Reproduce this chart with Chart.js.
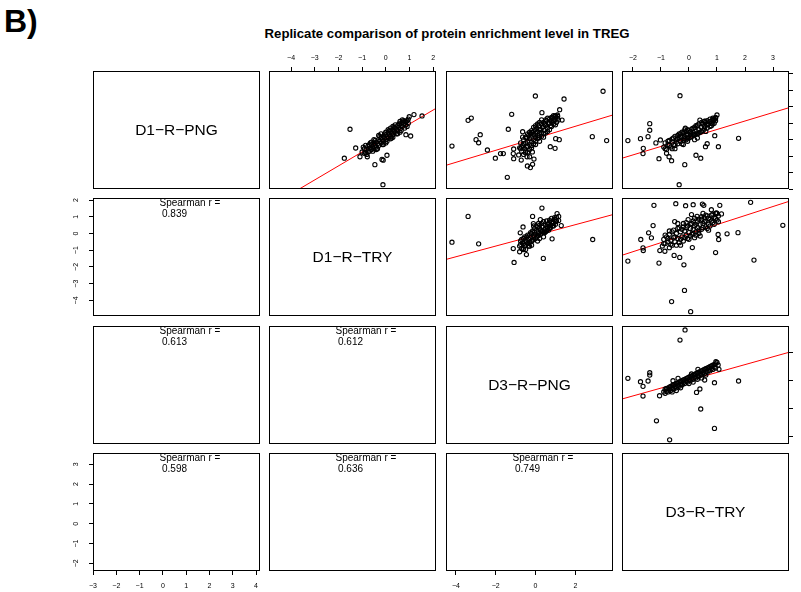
<!DOCTYPE html>
<html>
<head>
<meta charset="utf-8">
<script src="https://cdn.jsdelivr.net/npm/chart.js@4.4.1/dist/chart.umd.min.js"></script>
<style>
  html, body { margin: 0; padding: 0; background: #fff; overflow: hidden; width: 801px; height: 592px; }
  #stage { position: relative; width: 801px; height: 592px; }
  #stage canvas { position: absolute; left: 0; top: 0; }
  .tag { position: absolute; left: 4px; top: 5px; font: bold 32px/32px "Liberation Sans", Arial, sans-serif; color: #000; }
  .title { position: absolute; left: 0; top: 27px; width: 894px; text-align: center; white-space: nowrap;
           font: bold 13.2px/13px "Liberation Sans", Arial, sans-serif; color: #000; }
</style>
</head>
<body>
<div id="stage">
  <div class="tag">B)</div>
  <div class="title">Replicate comparison of protein enrichment level in TREG</div>
</div>
<script>
// ---- data ----
const varNames = ['D1\u2212R\u2212PNG', 'D1\u2212R\u2212TRY', 'D3\u2212R\u2212PNG', 'D3\u2212R\u2212TRY'];
const axisMin = [-3.0, -4.93, -4.5, -2.39];
const axisMax = [4.17, 2.12, 3.89, 3.57];
const axisTicks = [
  [-3, -2, -1, 0, 1, 2, 3, 4],
  [-4, -3, -2, -1, 0, 1, 2],
  [-4, -2, 0, 2],
  [-2, -1, 0, 1, 2, 3]
];

// spearman r for the lower panels, [row, col] (1-based)
const spearmanCells = [[2, 1], [3, 1], [3, 2], [4, 1], [4, 2], [4, 3]];
const spearmanR = [0.839, 0.613, 0.612, 0.598, 0.636, 0.749];

// upper panels: x = column variable, y = row variable
// row 1, col 2: x D1-R-TRY, y D1-R-PNG
const scatter12 = [
  [-1.0,-0.75],[-0.9,-0.55],[-0.85,-0.8],[-0.8,-0.6],[-0.75,-0.4],[-0.7,-0.7],[-0.65,-0.5],[-0.6,-0.3],
  [-0.6,-0.6],[-0.55,-0.45],[-0.5,-0.2],[-0.5,-0.55],[-0.45,-0.35],[-0.4,-0.15],[-0.4,-0.45],[-0.35,-0.25],
  [-0.3,0.0],[-0.3,-0.35],[-0.25,-0.1],[-0.2,0.1],[-0.2,-0.2],[-0.15,0.0],[-0.1,0.2],[-0.1,-0.1],
  [-0.05,0.1],[0.0,0.3],[0.0,0.0],[0.05,0.2],[0.1,0.4],[0.1,0.1],[0.15,0.3],[0.2,0.5],[0.2,0.2],
  [0.25,0.4],[0.3,0.6],[0.3,0.3],[0.35,0.5],[0.4,0.7],[0.4,0.45],[0.45,0.6],[0.5,0.85],[0.5,0.55],
  [0.55,0.75],[0.6,0.95],[0.6,0.65],[0.65,0.85],[0.7,1.05],[0.7,0.8],[0.75,0.95],[0.8,1.1],[0.85,0.9],
  [0.9,1.15],[0.95,1.0],[-0.7,-0.3],[0.2,0.7],
  [-0.95,-0.45],[-0.85,-0.35],[-0.75,-0.75],[-0.65,-0.2],[-0.55,-0.7],[-0.45,-0.05],[-0.35,-0.55],
  [-0.25,0.2],[-0.15,-0.3],[-0.05,0.35],[0.05,-0.1],[0.15,0.55],[0.25,0.1],[0.35,0.75],[0.45,0.35],
  [0.55,0.95],[0.65,0.55],[0.75,1.15],[0.85,1.1],[0.9,0.8],[-0.3,0.25],[0.0,0.45],[0.3,0.8],[0.6,1.1],
  [-0.6,-0.15],[-0.4,-0.6],[-0.1,-0.3],[0.2,0.05],[0.5,0.35],[0.8,0.7],[-0.2,0.35],[0.1,0.6],[0.4,0.9],
  [0.7,1.2],[-0.8,-0.9],[-0.5,0.0],[0.0,-0.2],[0.3,0.15],[0.6,0.45],[0.95,1.25],
  [-1.51,0.63],[-1.75,-1.13],[-0.12,-2.74],[-0.46,-1.52],[-0.16,-1.2],[-0.11,-1.25],[0.05,-0.95],
  [1.53,1.44],[1.19,1.52],[0.99,1.39],[1.05,0.22],[0.85,0.30],[-1.27,-0.51],[-1.09,-1.04],
  [-0.78,-1.04],[-0.91,-0.83]
];
// row 1, col 3: x D3-R-PNG, y D1-R-PNG
const scatter13 = [
  [-0.8,-0.5],[-0.75,-0.2],[-0.7,-0.7],[-0.65,-0.35],[-0.6,0.0],[-0.55,-0.55],[-0.5,-0.2],[-0.45,0.1],
  [-0.45,-0.45],[-0.4,-0.1],[-0.35,0.25],[-0.3,-0.3],[-0.3,0.05],[-0.25,0.35],[-0.2,-0.15],[-0.2,0.15],
  [-0.15,0.45],[-0.1,0.0],[-0.1,0.3],[-0.05,0.6],[0.0,0.15],[0.0,0.4],[0.05,0.7],[0.1,0.25],[0.1,0.5],
  [0.15,0.85],[0.2,0.35],[0.25,0.6],[0.3,0.95],[0.3,0.45],[0.35,0.75],[0.4,1.05],[0.45,0.55],[0.5,0.85],
  [0.55,1.15],[0.6,0.7],[0.65,1.0],[0.7,1.25],[0.75,0.85],[0.8,1.1],[0.85,1.35],[0.9,0.95],[0.95,1.2],
  [1.0,1.45],[1.05,1.05],[1.1,1.3],[-0.6,-0.9],[-0.4,-0.75],[-0.2,-0.5],[0.0,-0.3],[0.2,-0.1],[0.4,0.15],
  [-0.7,-0.45],[-0.6,-0.25],[-0.5,-0.7],[-0.5,0.15],[-0.4,-0.4],[-0.4,0.35],[-0.3,-0.6],[-0.3,0.45],
  [-0.2,0.55],[-0.2,-0.35],[-0.1,0.75],[-0.1,-0.25],[0.0,0.85],[0.0,-0.1],[0.1,0.95],[0.1,0.05],
  [0.2,1.05],[0.2,0.6],[0.3,1.2],[0.3,0.2],[0.4,0.8],[0.4,0.35],[0.5,1.2],[0.5,0.4],[0.6,1.3],[0.6,0.5],
  [0.7,1.0],[0.7,0.6],[0.8,1.35],[0.8,0.8],[0.9,1.45],[0.9,1.15],[1.0,1.3],[1.0,0.9],[1.1,1.5],[1.15,1.2],
  [-0.65,0.15],[-0.75,-0.55],[0.15,0.15],[0.45,0.95],
  [-4.2,-0.39],[-3.39,1.17],[-3.23,1.31],[-2.99,0.0],[-2.86,-0.19],[-2.78,0.30],[-2.42,-0.63],
  [-2.02,-1.13],[-1.76,-0.85],[-1.62,-0.85],[-1.37,0.63],[-1.2,1.54],[-1.42,-2.29],[-1.12,-0.85],
  [-1.1,-1.16],[-1.1,-0.57],[-0.01,2.65],[1.43,2.47],[1.21,1.82],[3.39,2.94],[2.85,0.18],[3.57,-0.06],
  [0.32,1.64],[-0.41,-1.6],[-0.26,-1.7],[-0.15,-1.5],[-0.43,-1.04],[-0.3,-1.04],[-0.08,-1.18],
  [-0.16,-0.75],[-0.51,-0.79],[-0.65,0.48],[0.98,-0.53],[0.74,-0.43],[1.01,0.06],[1.19,0.0],
  [1.33,1.19],[1.11,1.42],[0.96,1.39],[-0.72,-1.24],[-0.85,-0.93]
];
// row 1, col 4: x D3-R-TRY, y D1-R-PNG
const scatter14 = [
  [-0.9,-0.45],[-0.85,-0.2],[-0.8,-0.6],[-0.75,-0.3],[-0.7,-0.05],[-0.65,-0.45],[-0.6,-0.15],[-0.55,0.1],
  [-0.5,-0.35],[-0.45,0.0],[-0.4,0.25],[-0.4,-0.25],[-0.35,0.1],[-0.3,-0.1],[-0.3,0.35],[-0.25,0.15],
  [-0.2,-0.05],[-0.2,0.4],[-0.15,0.2],[-0.1,0.0],[-0.1,0.5],[-0.05,0.3],[0.0,0.1],[0.0,0.55],[0.05,0.35],
  [0.1,0.2],[0.1,0.65],[0.15,0.45],[0.2,0.3],[0.2,0.75],[0.25,0.5],[0.3,0.35],[0.3,0.85],[0.35,0.6],
  [0.4,0.45],[0.45,0.75],[0.5,0.95],[0.5,0.55],[0.55,0.8],[0.6,1.05],[0.65,0.7],[0.7,0.95],[0.75,1.1],
  [0.8,0.85],[0.85,1.2],[0.9,1.0],[0.95,1.3],[0.95,1.15],[-0.6,-0.55],[-0.2,-0.3],[0.2,0.0],
  [-0.85,-0.55],[-0.75,-0.1],[-0.7,-0.35],[-0.6,0.05],[-0.55,-0.3],[-0.5,0.2],[-0.45,-0.15],[-0.4,0.05],
  [-0.35,0.35],[-0.3,0.2],[-0.25,-0.25],[-0.25,0.45],[-0.15,0.05],[-0.1,0.3],[-0.05,0.6],[-0.05,0.1],
  [0.05,0.5],[0.05,0.15],[0.15,0.7],[0.15,0.3],[0.25,0.85],[0.25,0.35],[0.35,0.4],[0.35,0.95],[0.45,0.5],
  [0.45,1.05],[0.55,0.65],[0.55,1.1],[0.65,0.9],[0.65,1.15],[0.75,0.8],[0.75,1.25],[0.85,0.95],[0.85,1.3],
  [0.9,1.25],[0.95,1.35],[-0.05,-0.1],[0.3,0.1],[0.6,0.5],[-0.5,-0.55],
  [-2.18,-0.06],[-1.73,0.06],[-1.63,-0.53],[-1.64,-0.85],[-1.46,0.18],[-1.40,0.97],[-1.40,0.57],
  [-1.18,-0.2],[-1.02,-0.02],[-1.07,-1.16],[-0.62,-1.28],[-0.71,-1.04],[-0.80,-0.83],[-0.32,2.67],
  [-0.35,-2.74],[-0.15,-1.52],[0.25,-0.95],[0.42,-1.13],[0.59,-0.43],[0.65,-0.25],[1.05,-0.43],
  [1.77,0.08],[0.92,0.24],[1.0,1.5],[0.39,1.19],[0.56,1.13],[0.89,1.19],[0.8,0.99],[-0.13,0.69],[-0.15,0.59]
];
// row 2, col 3: x D3-R-PNG, y D1-R-TRY
const scatter23 = [
  [-0.8,-0.75],[-0.75,-0.45],[-0.7,-0.9],[-0.65,-0.55],[-0.6,-0.3],[-0.55,-0.7],[-0.5,-0.45],[-0.45,-0.2],
  [-0.4,-0.6],[-0.35,-0.35],[-0.3,-0.1],[-0.3,-0.5],[-0.25,-0.25],[-0.2,0.0],[-0.15,-0.4],[-0.1,-0.15],
  [-0.05,0.1],[0.0,-0.3],[0.0,-0.05],[0.05,0.2],[0.1,-0.15],[0.15,0.05],[0.2,0.3],[0.25,-0.05],[0.3,0.15],
  [0.35,0.4],[0.4,0.05],[0.45,0.25],[0.5,0.5],[0.55,0.15],[0.6,0.35],[0.65,0.6],[0.7,0.3],[0.75,0.5],
  [0.8,0.7],[0.85,0.45],[0.9,0.65],[0.95,0.85],[1.0,0.55],[1.05,0.75],[-0.5,-0.95],[-0.2,-0.7],
  [0.1,-0.45],[0.4,-0.2],
  [-0.75,-0.65],[-0.7,-0.35],[-0.6,-0.6],[-0.55,-0.2],[-0.45,-0.5],[-0.4,-0.1],[-0.35,-0.75],[-0.25,0.05],
  [-0.2,-0.45],[-0.15,0.15],[-0.1,-0.35],[-0.05,0.3],[0.05,-0.2],[0.1,0.4],[0.15,-0.1],[0.2,0.5],
  [0.25,0.2],[0.3,0.6],[0.35,0.1],[0.4,0.7],[0.45,0.05],[0.5,0.3],[0.55,0.75],[0.6,0.55],[0.65,0.2],
  [0.7,0.8],[0.75,0.35],[0.8,0.9],[0.85,0.6],[0.9,0.45],[0.95,0.95],[1.0,0.7],[1.05,0.95],[-0.6,-0.9],
  [-0.1,0.45],[0.2,-0.3],[0.5,0.1],[0.15,0.6],
  [-4.2,-0.52],[-3.39,1.02],[-2.86,-0.62],[-1.12,-0.90],[-1.08,-1.73],[-0.46,-1.26],[-0.80,-1.09],
  [-0.63,-0.96],[0.32,1.52],[-0.15,1.02],[-0.11,0.59],[0.24,0.83],[0.39,-1.49],[1.08,1.19],[1.16,1.02],
  [1.16,0.77],[1.29,0.47],[0.83,-0.32],[2.87,-0.36],[-0.77,0.04],[-0.63,0.39],[-0.38,-0.56],[-0.3,-0.76]
];
// row 2, col 4: x D3-R-TRY, y D1-R-TRY
const scatter24 = [
  [-0.95,-0.75],[-0.9,-0.35],[-0.85,-0.6],[-0.8,-0.2],[-0.75,-0.5],[-0.7,-0.05],[-0.65,-0.4],[-0.6,-0.7],
  [-0.6,0.1],[-0.55,-0.25],[-0.5,-0.5],[-0.45,0.0],[-0.4,-0.3],[-0.4,0.3],[-0.35,-0.55],[-0.3,0.1],
  [-0.25,-0.2],[-0.2,0.4],[-0.2,-0.45],[-0.15,0.15],[-0.1,-0.1],[-0.05,0.45],[0.0,0.05],[0.0,-0.35],
  [0.05,0.3],[0.1,-0.05],[0.1,0.6],[0.15,0.25],[0.2,-0.25],[0.2,0.45],[0.25,0.1],[0.3,0.7],[0.3,0.35],
  [0.35,0.0],[0.4,0.55],[0.45,0.85],[0.45,0.25],[0.5,0.6],[0.55,0.95],[0.6,0.4],[0.6,0.75],[0.65,1.05],
  [0.7,0.55],[0.75,0.85],[0.8,1.1],[0.85,0.65],[0.9,0.95],[0.95,1.2],[1.0,0.8],[1.05,1.05],
  [-0.7,-0.85],[-0.3,-0.7],[0.4,-0.15],[0.7,0.2],
  [-0.9,-0.6],[-0.85,-0.1],[-0.75,-0.3],[-0.7,0.15],[-0.65,-0.65],[-0.55,0.2],[-0.5,-0.2],[-0.45,-0.7],
  [-0.35,0.35],[-0.3,-0.35],[-0.25,0.25],[-0.2,0.6],[-0.15,-0.25],[-0.1,0.35],[-0.05,-0.3],[0.05,0.55],
  [0.05,-0.15],[0.15,0.75],[0.15,0.0],[0.25,0.55],[0.25,-0.1],[0.35,0.85],[0.35,0.2],[0.45,1.0],[0.5,0.35],
  [0.55,0.7],[0.6,1.1],[0.65,0.3],[0.7,0.9],[0.75,0.45],[0.8,0.75],[0.85,1.15],[0.9,0.55],[0.95,0.9],
  [1.0,1.2],[1.05,0.7],[-0.1,0.65],[0.2,0.9],[0.5,1.2],[-0.4,0.6],
  [-2.18,-1.65],[-1.25,1.68],[-0.47,1.78],[-0.12,1.66],[0.15,1.72],[0.48,1.76],[0.53,1.68],[1.1,1.68],
  [2.2,1.86],[3.35,0.49],[-1.72,-0.36],[-1.64,-0.86],[-1.63,-1.02],[-1.28,0.47],[-1.44,0.04],
  [-1.34,-0.26],[-1.07,-1.77],[-0.62,-4.07],[-0.16,-3.40],[0.06,-4.67],[-0.18,-1.87],[-0.53,-1.31],
  [-0.33,-1.43],[0.12,-0.84],[0.95,-1.14],[1.06,-0.36],[1.04,-0.06],[1.36,-0.02],[1.75,0.05],
  [2.32,-1.59],[-1.04,-1.02],[-0.86,-1.06],[-0.51,0.71],[-0.03,0.83],[0.09,1.13],[0.29,1.02],
  [0.80,1.42],[0.98,1.23],[1.16,1.17]
];
// row 3, col 4: x D3-R-TRY, y D3-R-PNG
const scatter34 = [
  [-0.9,-0.8],[-0.85,-0.6],[-0.8,-0.75],[-0.75,-0.55],[-0.7,-0.65],[-0.65,-0.4],[-0.6,-0.55],[-0.55,-0.3],
  [-0.5,-0.45],[-0.45,-0.2],[-0.4,-0.35],[-0.35,-0.1],[-0.3,-0.25],[-0.25,0.0],[-0.2,-0.15],[-0.15,0.1],
  [-0.1,-0.05],[-0.05,0.2],[0.0,0.05],[0.05,0.3],[0.1,0.15],[0.15,0.4],[0.2,0.25],[0.25,0.5],[0.3,0.35],
  [0.35,0.6],[0.4,0.45],[0.45,0.7],[0.5,0.55],[0.55,0.8],[0.6,0.65],[0.65,0.9],[0.7,0.75],[0.75,1.0],
  [0.8,0.85],[0.85,1.1],[0.9,0.95],[0.95,1.2],[1.0,1.3],[-0.6,-0.8],[-0.3,-0.5],[0.0,-0.2],[0.3,0.1],[0.6,0.4],
  [-0.85,-0.9],[-0.8,-0.55],[-0.75,-0.8],[-0.7,-0.45],[-0.65,-0.7],[-0.6,-0.35],[-0.55,-0.6],[-0.5,-0.25],
  [-0.45,-0.5],[-0.4,-0.15],[-0.35,-0.4],[-0.3,-0.05],[-0.25,-0.3],[-0.2,0.05],[-0.15,-0.2],[-0.1,0.15],
  [-0.05,-0.1],[0.0,0.25],[0.05,0.0],[0.1,0.35],[0.15,0.1],[0.2,0.45],[0.25,0.2],[0.3,0.55],[0.35,0.3],
  [0.4,0.65],[0.45,0.4],[0.5,0.75],[0.55,0.5],[0.6,0.85],[0.65,0.6],[0.7,0.95],[0.75,0.7],[0.8,1.05],
  [0.85,0.8],[0.9,1.15],[0.95,0.9],[-0.45,-0.7],[0.15,-0.1],[0.45,0.2],
  [-0.14,3.61],[-0.32,2.89],[-2.18,0.17],[-1.73,-0.07],[-1.64,-0.40],[-1.64,-1.09],[-1.46,-0.02],
  [-1.40,0.57],[-1.40,0.40],[-1.16,-2.85],[-0.69,-4.20],[-1.05,-1.07],[0.42,-2.01],[0.91,-3.39],
  [0.91,-0.14],[1.77,-0.02],[0.27,-0.83],[0.39,-0.59],[0.56,0.05],[0.96,1.35],[1.04,1.12],[1.07,0.81],
  [-0.57,0.0],[-0.39,0.17],[0.32,0.81],[0.09,0.48]
];

// red least-squares lines, endpoints where each meets the panel edge
const fit12 = [[-3.65, -3.0], [2.12, 1.90]];
const fit13 = [[-4.5, -1.56], [3.89, 1.50]];
const fit14 = [[-2.39, -1.13], [3.57, 1.94]];
const fit23 = [[-4.5, -1.55], [3.89, 1.13]];
const fit24 = [[-2.39, -1.30], [3.57, 1.92]];
const fit34 = [[-2.39, -1.30], [3.57, 2.02]];

const upperPanels = {
  '1,2': [scatter12, fit12], '1,3': [scatter13, fit13], '1,4': [scatter14, fit14],
  '2,3': [scatter23, fit23], '2,4': [scatter24, fit24], '3,4': [scatter34, fit34]
};

// ---- layout ----
const W = 801, H = 592;
const colLeft = [93, 269, 446, 622];
const rowTop = [71, 198, 326, 453];
const panelW = 167, panelH = 118;
const axisBand = { top: 20, bottom: 21, left: 24, right: 12 };
const FONT = '"Liberation Sans", Arial, Helvetica, sans-serif';

const minus = v => (v < 0 ? '\u2212' + Math.abs(v) : String(v));
const toXY = pts => pts.map(p => ({ x: p[0], y: p[1] }));

// draws the panel frame and any panel text
const panelDecor = {
  id: 'panelDecor',
  afterDraw(chart, args, opts) {
    const { ctx, chartArea: a } = chart;
    ctx.save();
    ctx.strokeStyle = '#000';
    ctx.lineWidth = 1;
    ctx.strokeRect(a.left + 0.5, a.top + 0.5, a.right - a.left - 1, a.bottom - a.top - 1);
    ctx.fillStyle = '#000';
    ctx.textBaseline = 'middle';
    (opts.texts || []).forEach(t => {
      ctx.font = t.size + 'px ' + FONT;
      ctx.textAlign = t.align;
      ctx.fillText(t.text, a.left + t.dx, a.top + t.dy);
    });
    ctx.restore();
  }
};

function axis(v, position, show) {
  const vertical = position === 'left' || position === 'right';
  const pad = { top: 5, bottom: 7, left: 9, right: 8 }[position];
  return {
    type: 'linear',
    position: position,
    display: show,
    min: axisMin[v],
    max: axisMax[v],
    afterBuildTicks: s => { s.ticks = axisTicks[v].map(value => ({ value })); },
    afterFit: s => {
      const size = show ? axisBand[position] : 0;
      if (vertical) s.width = size; else s.height = size;
    },
    grid: { display: true, drawOnChartArea: false, drawTicks: true, tickLength: 4, color: '#000', lineWidth: 1 },
    border: { display: false },
    ticks: {
      color: '#000',
      font: { size: 7, family: FONT },
      padding: pad,
      autoSkip: false,
      crossAlign: vertical ? 'center' : 'near',
      minRotation: vertical ? 90 : 0,
      maxRotation: vertical ? 90 : 0,
      callback: value => minus(value)
    }
  };
}

const stage = document.getElementById('stage');

for (let r = 0; r < 4; r++) {
  for (let c = 0; c < 4; c++) {
    const canvas = document.createElement('canvas');
    canvas.width = W;
    canvas.height = H;
    stage.appendChild(canvas);

    const left = colLeft[c], top = rowTop[r];
    const datasets = [];
    const texts = [];
    const key = (r + 1) + ',' + (c + 1);

    if (upperPanels[key]) {
      const [pts, fit] = upperPanels[key];
      datasets.push({
        type: 'scatter',
        data: toXY(pts),
        pointStyle: 'circle',
        pointRadius: 2.1,
        borderWidth: 1.1,
        borderColor: '#000',
        backgroundColor: 'rgba(0,0,0,0)'
      });
      datasets.push({
        type: 'line',
        data: toXY(fit),
        showLine: true,
        borderColor: '#ff0000',
        borderWidth: 1,
        pointRadius: 0,
        fill: false
      });
    } else if (r === c) {
      texts.push({ text: varNames[r], dx: panelW / 2, dy: panelH / 2 + 1, size: 15.5, align: 'center' });
    } else {
      const i = spearmanCells.findIndex(p => p[0] === r + 1 && p[1] === c + 1);
      texts.push({ text: 'Spearman r =', dx: 66.5, dy: 5.5, size: 10, align: 'left' });
      texts.push({ text: spearmanR[i].toFixed(3), dx: 69, dy: 16, size: 10, align: 'left' });
    }

    // R pairs(): axes alternate sides around the matrix
    let xPos = 'bottom', xShow = false, yPos = 'left', yShow = false;
    if (r === 0 && c % 2 === 1) { xPos = 'top'; xShow = true; }
    if (r === 3 && c % 2 === 0) { xPos = 'bottom'; xShow = true; }
    if (c === 0 && r % 2 === 1) { yPos = 'left'; yShow = true; }
    if (c === 3 && r % 2 === 0) { yPos = 'right'; yShow = true; }

    const pad = { left: left, top: top, right: W - left - panelW, bottom: H - top - panelH };
    if (xShow) pad[xPos] -= axisBand[xPos];
    if (yShow) pad[yPos] -= axisBand[yPos];

    new Chart(canvas, {
      type: 'scatter',
      data: { datasets },
      options: {
        responsive: false,
        animation: false,
        events: [],
        layout: { padding: pad },
        plugins: {
          legend: { display: false },
          tooltip: { enabled: false },
          panelDecor: { texts }
        },
        scales: {
          x: axis(c, xPos, xShow),
          y: axis(r, yPos, yShow)
        }
      },
      plugins: [panelDecor]
    });
  }
}
</script>
</body>
</html>
